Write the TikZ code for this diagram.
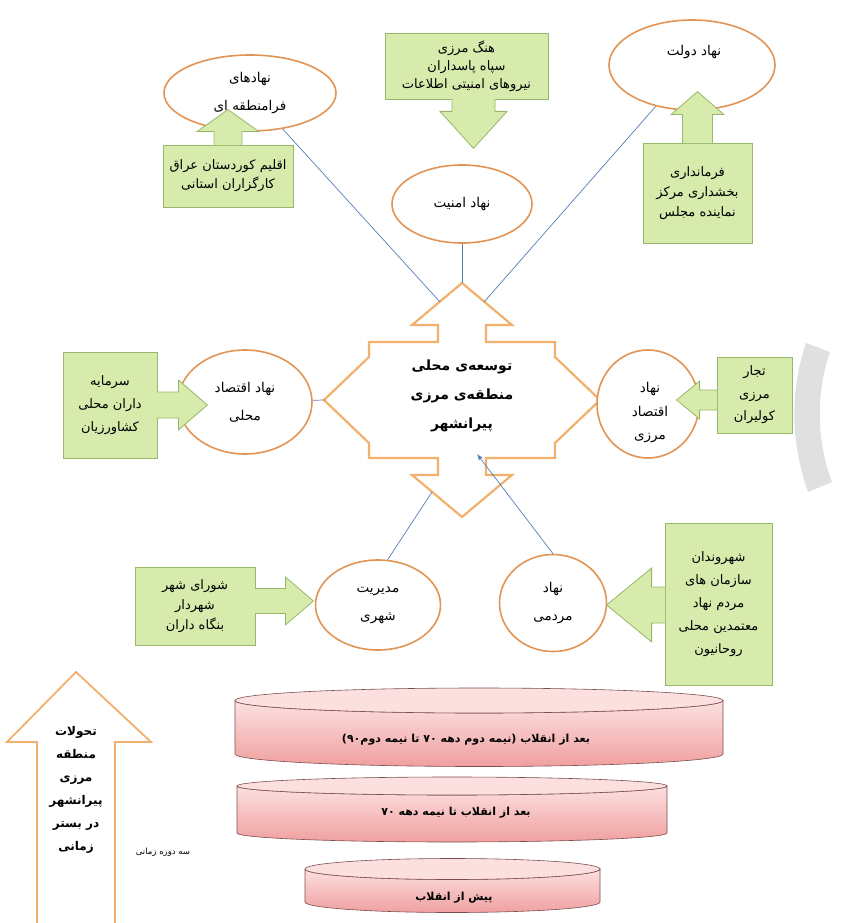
\documentclass[tikz,border=0pt]{standalone}
\usepackage{fontspec}
\usepackage{tikz}
\usetikzlibrary{positioning,shapes.geometric,arrows.meta,calc}
\newfontfamily\fa[Script=Arabic]{DejaVu Sans}
\TeXXeTstate=1
\newcommand{\rl}[1]{\beginR#1\endR}
\definecolor{eOr}{RGB}{226,148,84}
\definecolor{qOr}{RGB}{243,176,108}
\definecolor{gFill}{RGB}{214,235,172}
\definecolor{gLine}{RGB}{150,184,104}
\definecolor{lnk}{RGB}{84,124,182}
\definecolor{pkTop}{RGB}{252,224,224}
\definecolor{pkBot}{RGB}{240,160,160}
\definecolor{pkLine}{RGB}{125,78,78}
\definecolor{ringG}{RGB}{224,224,224}

\begin{document}
\begin{tikzpicture}[
  x=1pt, y=-1pt,
  >={Latex[length=6pt,width=4.5pt]},
  ell/.style={ellipse, draw=eOr, line width=1.6pt, fill=white, inner sep=0pt, align=center, font=\fa\fontsize{13.5}{28}\selectfont},
  gbox/.style={draw=gLine, line width=0.8pt, fill=gFill, align=center, inner sep=0pt, font=\fa\fontsize{13}{21}\selectfont},
  call/.style={draw=gLine, line width=0.8pt, fill=gFill},
  quad/.style={draw=qOr, line width=2.2pt, fill=white},
  link/.style={lnk, line width=0.7pt},
  cyl/.style={draw=pkLine, line width=0.6pt},
  ctxt/.style={font=\fa\fontsize{11}{13}\selectfont\bfseries},
]
\useasboundingbox (0,0) rectangle (844,923);

% ---- grey ring cut by the right edge ----
\fill[ringG] (806,343) .. controls (790,390) and (790,440) .. (808,492) -- (832,482) .. controls (816,440) and (816,392) .. (830,352) -- cycle;

% ---- central quad arrow ----
\begin{scope}[shift={(462,400)}]
\draw[quad] (0,-117) -- (50,-75) -- (24,-75) -- (24,-58) -- (93,-58) -- (93,-43)
  -- (138,0) -- (93,43) -- (93,58) -- (24,58) -- (24,75) -- (50,75)
  -- (0,117) -- (-50,75) -- (-24,75) -- (-24,58) -- (-93,58) -- (-93,43)
  -- (-138,0) -- (-93,-43) -- (-93,-58) -- (-24,-58) -- (-24,-75) -- (-50,-75) -- cycle;
\coordinate (Qt) at (0,-117);
\coordinate (Ql) at (-138,0);
\coordinate (Qr) at (138,0);
\coordinate (QtlM) at (-22,-98);
\coordinate (QtrM) at (22,-98);
\coordinate (QblM) at (-30,92);
\coordinate (Qin) at (15,54);
\end{scope}
\node[ctxt, font=\fa\fontsize{14}{29}\selectfont\bfseries, align=center] (Q) at (462,396)
  {\rl{توسعه‌ی محلی}\\\rl{منطقه‌ی مرزی}\\\rl{پیرانشهر}};

% ---- the institutions ----
\node[ell, minimum width=172, minimum height=76] (E1) at (250,93) {\rl{نهادهای}\\\rl{فرامنطقه ای}};
\node[ell, minimum width=140, minimum height=78] (E2) at (462,204) {\rl{نهاد امنیت}};
\node[ell, minimum width=166, minimum height=90] (E3) at (692,65) {};
\node[font=\fa\fontsize{13.5}{28}\selectfont] (E3t) at (694,52) {\rl{نهاد دولت}};
\node[ell, minimum width=134, minimum height=104] (E4) at (245,402) {\rl{نهاد اقتصاد}\\\rl{محلی}};
\node[ell, minimum width=102, minimum height=108] (E5) at (648,404) {};
\node[font=\fa\fontsize{13.5}{23.5}\selectfont, align=center] (E5t) at (650,413) {\rl{نهاد}\\\rl{اقتصاد}\\\rl{مرزی}};
\node[ell, minimum width=125, minimum height=90] (E6) at (378,605) {\rl{مدیریت}\\\rl{شهری}};
\node[ell, minimum width=107, minimum height=97] (E7) at (553,603) {\rl{نهاد}\\\rl{مردمی}};

% ---- links to the centre ----
\draw[link] (E1) -- (QtlM);
\draw[link] (E2) -- (Qt);
\draw[link] (E3) -- (QtrM);
\draw[link] (E4) -- (Ql);
\draw[link] (E6.78) -- (QblM);
\draw[link, ->] (E7.north) -- (Qin);

% ---- green callouts ----
\node[gbox, font=\fa\fontsize{13}{19}\selectfont, minimum width=130, minimum height=62] (G1) at (228,176) {\rl{اقلیم کوردستان عراق}\\\rl{کارگزاران استانی}};
\filldraw[call] ($(G1.north)+(-14,0.6)$) -- ++(0,-13.6) -- ++(-17,0) -- ++(31,-22) -- ++(31,22) -- ++(-17,0) -- ++(0,13.6);

\node[gbox, font=\fa\fontsize{13}{18}\selectfont, minimum width=163, minimum height=66] (G2) at (466.5,66) {\rl{هنگ مرزی}\\\rl{سپاه پاسداران}\\\rl{نیروهای امنیتی اطلاعات}};
\filldraw[call] ($(G2.south)+(-14.5,-0.6)$) -- ++(0,12.6) -- ++(-12,0) -- ++(33.5,37) -- ++(33.5,-37) -- ++(-12,0) -- ++(0,-12.6);

\node[gbox, font=\fa\fontsize{13}{20}\selectfont, minimum width=109, minimum height=100] (G3) at (697.5,193) {\rl{فرمانداری}\\\rl{بخشداری مرکز}\\\rl{نماینده مجلس}};
\filldraw[call] ($(G3.north)+(-15,0.6)$) -- ++(0,-28.6) -- ++(-11.5,0) -- ++(26.5,-23) -- ++(26.5,23) -- ++(-11.5,0) -- ++(0,28.6);

\node[gbox, font=\fa\fontsize{13}{23}\selectfont, minimum width=94, minimum height=106] (G4) at (110,405) {\rl{سرمایه}\\\rl{داران محلی}\\\rl{کشاورزیان}};
\filldraw[call] ($(G4.east)+(-0.6,-13)$) -- ++(21.6,0) -- ++(0,-12) -- ++(29,25) -- ++(-29,25) -- ++(0,-12) -- ++(-21.6,0);

\node[gbox, font=\fa\fontsize{13}{22.5}\selectfont, minimum width=75, minimum height=76] (G5) at (754.5,395) {\rl{تجار}\\\rl{مرزی}\\\rl{کولیران}};
\filldraw[call] ($(G5.west)+(0.6,-5)$) -- ++(-17.6,0) -- ++(0,-9) -- ++(-23,19) -- ++(23,19) -- ++(0,-9) -- ++(17.6,0);

\node[gbox, font=\fa\fontsize{13}{20}\selectfont, minimum width=120, minimum height=78] (G6) at (195,606) {\rl{شورای شهر}\\\rl{شهردار}\\\rl{بنگاه داران}};
\filldraw[call] ($(G6.east)+(-0.6,-17.5)$) -- ++(30.6,0) -- ++(0,-11.5) -- ++(28,24) -- ++(-28,24) -- ++(0,-11.5) -- ++(-30.6,0);

\node[gbox, font=\fa\fontsize{13}{23}\selectfont, minimum width=107, minimum height=162] (G7) at (718.5,604) {\rl{شهروندان}\\\rl{سازمان های}\\\rl{مردم نهاد}\\\rl{معتمدین محلی}\\\rl{روحانیون}};
\filldraw[call] ($(G7.west)+(0.6,-17)$) -- ++(-13.6,0) -- ++(0,-19) -- ++(-45,37) -- ++(45,37) -- ++(0,-19) -- ++(13.6,0);

% ---- time axis ----
\draw[quad, line width=1.8pt] (37,935) -- (37,742) -- (7,742) -- (76,672) -- (151,742) -- (115,742) -- (115,935);
\node[ctxt, font=\fa\fontsize{12}{23}\selectfont\bfseries, align=center] (Tv) at (76,790)
  {\rl{تحولات}\\\rl{منطقه}\\\rl{مرزی}\\\rl{پیرانشهر}\\\rl{در بستر}\\\rl{زمانی}};
\node[font=\fa\fontsize{8.5}{10}\selectfont] (Sd) at (163,852) {\rl{سه دوره زمانی}};

% ---- the three periods ----
\shadedraw[cyl, top color=pkTop, bottom color=pkBot] (235,700.5) -- (235,754) arc[start angle=180, end angle=0, x radius=244, y radius=12.5]
  -- (723,700.5) arc[start angle=0, end angle=180, x radius=244, y radius=12.5];
\filldraw[cyl, fill=pkTop] (479,700.5) ellipse[x radius=244, y radius=12.5];
\node[ctxt] (C1) at (466,740) {\rl{بعد از انقلاب (نیمه دوم دهه ۷۰ تا نیمه دوم۹۰)}};

\shadedraw[cyl, top color=pkTop, bottom color=pkBot] (237,786) -- (237,833) arc[start angle=180, end angle=0, x radius=215, y radius=9]
  -- (667,786) arc[start angle=0, end angle=180, x radius=215, y radius=9];
\filldraw[cyl, fill=pkTop] (452,786) ellipse[x radius=215, y radius=9];
\node[ctxt] (C2) at (456,813) {\rl{بعد از انقلاب تا نیمه دهه ۷۰}};

\shadedraw[cyl, top color=pkTop, bottom color=pkBot] (305,869) -- (305,902) arc[start angle=180, end angle=0, x radius=147.5, y radius=10.5]
  -- (600,869) arc[start angle=0, end angle=180, x radius=147.5, y radius=10.5];
\filldraw[cyl, fill=pkTop] (452.5,869) ellipse[x radius=147.5, y radius=10.5];
\node[ctxt] (C3) at (454,898) {\rl{پیش از انقلاب}};

\end{tikzpicture}
\end{document}
